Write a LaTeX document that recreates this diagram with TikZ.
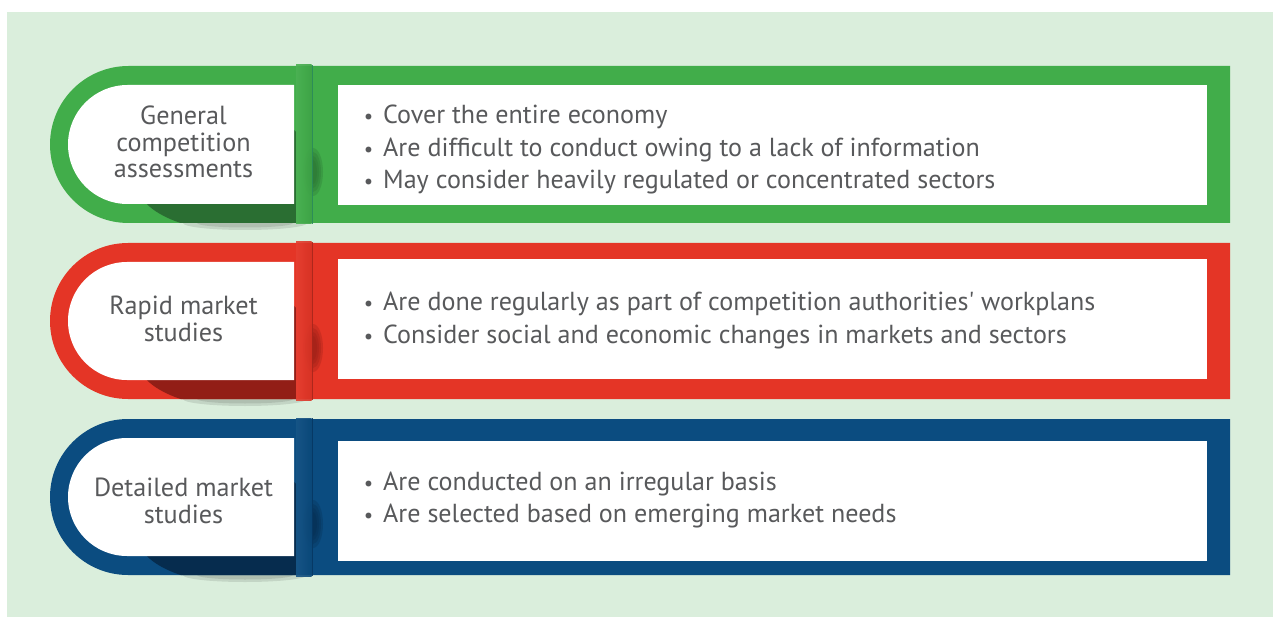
\documentclass[tikz,border=0pt]{standalone}
\usepackage{fontspec}
\newfontfamily\myfont{PT Sans}
\definecolor{bg}{HTML}{DAEEDC}
\definecolor{gband}{HTML}{41AD4A}
\definecolor{gdark}{HTML}{2A8A5A}
\definecolor{gshadow}{HTML}{2A6E32}
\definecolor{rband}{HTML}{E43526}
\definecolor{rdark}{HTML}{A8261C}
\definecolor{rshadow}{HTML}{921E16}
\definecolor{bband}{HTML}{0B4C80}
\definecolor{bdark}{HTML}{063863}
\definecolor{bshadow}{HTML}{062C4E}
\definecolor{txt}{HTML}{58595B}
\newlength\measlen
\newlength\measlab
% #1 outer top, #2 outer bottom, #3 right box top, #4 right box bottom, #5 band, #6 dark, #7 shadow
\newcommand\bandrow[7]{%
  \pgfmathsetmacro\RR{(#2-#1)/2}%
  \pgfmathsetmacro\rr{\RR-19}%
  \pgfmathsetmacro\Ib{#2-19}%
  % soft grey shadow below the band
  \fill[black,opacity=0.10] (245,#2) ellipse[x radius=62,y radius=7];
  \fill[black,opacity=0.10] (245,#2) ellipse[x radius=48,y radius=4.5];
  % band
  \fill[#5] (1230,#1) -- (50+\RR,#1) arc[start angle=270,end angle=90,radius=\RR] -- (1230,#2) -- cycle;
  % dark shadow under the label box
  \begin{scope}
    \clip (296,#1) -- (50+\RR,#1) arc[start angle=270,end angle=90,radius=\RR] -- (296,#2) -- cycle;
    \fill[#7] (140,\Ib-9) .. controls (150,\Ib+11) and (190,\Ib+28) .. (240,\Ib+28)
      .. controls (300,\Ib+28) and (325,\Ib+11) .. (323,\Ib-19)
      .. controls (321,\Ib-44) and (305,\Ib-64) .. (294,\Ib-74) -- (140,\Ib-74) -- cycle;
  \end{scope}
  % blurred shadow right of the divider
  \foreach \ex/\ey in {10/24,8/20,6/16,4/12}
    \fill[#7,opacity=0.28] (313,\Ib-32) ellipse[x radius=\ex,y radius=\ey];
  % divider strip
  \shade[left color=#5!95!white, right color=#5!94!black, opacity=0.9] (296,#1-1) rectangle (311.5,#2+1);
  \fill[#6, opacity=0.9] (311.5,#1-1) rectangle (313,#2+1);
  % white label box
  \fill[white] (294,#1+19) -- (68+\rr,#1+19) arc[start angle=270,end angle=90,radius=\rr] -- (294,\Ib) -- cycle;
  % white text box
  \fill[white] (338,#3) rectangle (1207,#4);
}
\begin{document}
\settowidth\measlen{\myfont\fontsize{20pt}{24pt}\selectfont Are done regularly as part of competition authorities' workplans}%
\settowidth\measlab{\myfont\fontsize{20pt}{24pt}\selectfont Detailed market}%
\pgfmathsetmacro\bodysize{20*712/\measlen}%
\pgfmathsetmacro\labelsize{20*179/\measlab}%
\begin{tikzpicture}[x=1pt,y=-1pt,
  body/.style={font=\myfont\fontsize{\bodysize pt}{\bodysize pt}\selectfont, text=txt, inner sep=0pt, anchor=base west},
  lab/.style={font=\myfont\fontsize{\labelsize pt}{\labelsize pt}\selectfont, text=txt, inner sep=0pt, anchor=base}]
\newcommand\bul{\llap{\makebox[29pt][c]{\scalebox{0.8}{•}}}}
\useasboundingbox (0,0) rectangle (1273,617);
\fill[bg] (7,12) rectangle (1273,617);

\bandrow{66}{223}{85}{205}{gband}{gdark}{gshadow}
\bandrow{243}{399}{259}{379}{rband}{rdark}{rshadow}
\bandrow{419}{575}{441}{561}{bband}{bdark}{bshadow}

% labels
\node[lab] (gl1) at (183.5,125) {General};
\node[lab] (gl2) at (183.5,151.5) {competition};
\node[lab] (gl3) at (183.5,178) {assessments};
\node[lab] (rl1) at (183.5,315) {Rapid market};
\node[lab] (rl2) at (183.5,341) {studies};
\node[lab] (bl1) at (183.5,496) {Detailed market};
\node[lab] (bl2) at (183.5,523) {studies};

% bullet texts
\node[body] (g1) at (383,124) {\bul Cover the entire economy};
\node[body] (g2) at (383,156.5) {\bul Are difficult to conduct owing to a lack of information};
\node[body] (g3) at (383,189) {\bul May consider heavily regulated or concentrated sectors};
\node[body] (r1) at (383,311) {\bul Are done regularly as part of competition authorities' workplans};
\node[body] (r2) at (383,343.5) {\bul Consider social and economic changes in markets and sectors};
\node[body] (b1) at (383,490) {\bul Are conducted on an irregular basis};
\node[body] (b2) at (383,522.5) {\bul Are selected based on emerging market needs};
\end{tikzpicture}
\end{document}
